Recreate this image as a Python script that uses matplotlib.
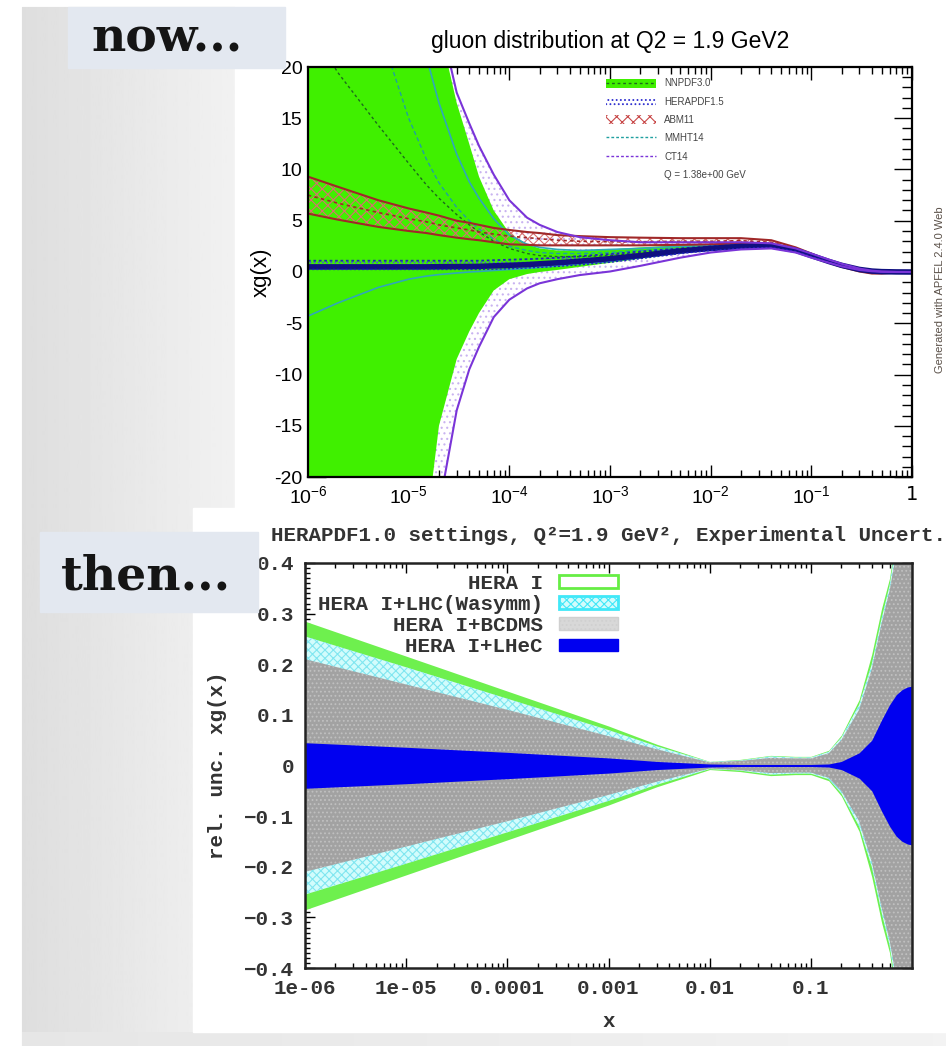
import numpy as np
import matplotlib
matplotlib.use('Agg')
import matplotlib.pyplot as plt
from matplotlib.patches import Patch, Rectangle
from matplotlib.lines import Line2D
from matplotlib.ticker import LogLocator, MultipleLocator, NullFormatter

plt.rcParams['mathtext.fontset'] = 'custom'
plt.rcParams['mathtext.rm'] = 'Liberation Sans'
plt.rcParams['mathtext.it'] = 'Liberation Sans:italic'
plt.rcParams['hatch.linewidth'] = 0.8

W, H = 946, 1046        # output size in pixels
SANS = ['Liberation Sans', 'DejaVu Sans']
MONO = ['Liberation Mono', 'DejaVu Sans Mono']

# ---- top panel: xg(x) at Q2 = 1.9 GeV2, several PDF sets ----
x_top = [1e-6, 2e-6, 5e-6, 1e-5, 1.5e-5, 2e-5, 3e-5, 4e-5, 5e-5, 7e-5,
         1e-4, 1.5e-4, 2e-4, 3e-4, 5e-4, 1e-3, 2e-3, 5e-3, 1e-2, 2e-2,
         4e-2, 7e-2, 0.1, 0.15, 0.2, 0.3, 0.4, 0.5, 0.7, 1.0]

nnpdf_hi = [200, 150, 90, 55, 35, 24, 16.5, 12.5, 9.3, 6.0,
            3.8, 2.7, 2.3, 2.1, 2.1, 2.2, 2.4, 2.6, 2.7, 2.8,
            2.8, 2.3, 1.8, 1.2, 0.8, 0.35, 0.15, 0.07, 0.02, 0.0]
nnpdf_c = [24, 19.4, 14.3, 10.6, 8.5, 7.2, 5.6, 4.6, 3.9, 3.0,
           2.3, 1.8, 1.6, 1.5, 1.5, 1.6, 1.9, 2.2, 2.4, 2.55,
           2.6, 2.15, 1.65, 1.1, 0.7, 0.3, 0.12, 0.05, 0.015, 0.0]
nnpdf_lo = [-200, -150, -90, -45, -25, -15, -8.5, -5.8, -4.0, -1.8,
            -0.7, -0.2, 0.0, 0.2, 0.5, 0.9, 1.3, 1.8, 2.1, 2.3,
            2.4, 2.0, 1.5, 1.0, 0.6, 0.25, 0.1, 0.04, 0.01, 0.0]

hera_hi = [1.1, 1.1, 1.1, 1.1, 1.1, 1.1, 1.1, 1.1, 1.1, 1.15,
           1.2, 1.25, 1.3, 1.4, 1.55, 1.75, 2.0, 2.3, 2.5, 2.65,
           2.7, 2.25, 1.7, 1.1, 0.7, 0.27, 0.1, 0.04, 0.01, 0.0]
hera_c = [0.5, 0.5, 0.5, 0.5, 0.5, 0.52, 0.53, 0.54, 0.55, 0.6,
          0.65, 0.72, 0.8, 0.9, 1.05, 1.3, 1.6, 2.05, 2.3, 2.5,
          2.55, 2.12, 1.6, 1.02, 0.65, 0.25, 0.09, 0.035, 0.008, 0.0]
hera_lo = [0.25, 0.25, 0.25, 0.25, 0.25, 0.25, 0.25, 0.25, 0.25, 0.28,
           0.32, 0.4, 0.45, 0.55, 0.7, 0.95, 1.3, 1.8, 2.1, 2.3,
           2.4, 2.0, 1.5, 0.95, 0.6, 0.22, 0.08, 0.03, 0.007, 0.0]

abm_hi = [9.3, 8.3, 7.0, 6.2, 5.8, 5.5, 5.0, 4.8, 4.6, 4.3,
          4.1, 3.9, 3.8, 3.6, 3.5, 3.4, 3.35, 3.3, 3.3, 3.3,
          3.1, 2.4, 1.8, 1.1, 0.7, 0.25, 0.05, 0.0, 0.0, 0.0]
abm_c = [7.5, 6.7, 5.8, 5.2, 4.9, 4.6, 4.3, 4.1, 3.9, 3.7,
         3.5, 3.35, 3.25, 3.1, 3.0, 2.95, 2.95, 3.0, 3.0, 3.05,
         2.9, 2.25, 1.65, 1.0, 0.6, 0.15, -0.05, -0.08, -0.03, 0.0]
abm_lo = [5.7, 5.1, 4.4, 4.0, 3.8, 3.6, 3.35, 3.2, 3.1, 2.9,
          2.7, 2.65, 2.6, 2.6, 2.6, 2.6, 2.6, 2.65, 2.7, 2.8,
          2.7, 2.1, 1.5, 0.9, 0.5, 0.05, -0.15, -0.15, -0.06, 0.0]

mmht_hi = [150, 100, 55, 32, 21, 16.5, 11.5, 8.8, 7.2, 5.2,
           3.6, 2.7, 2.4, 2.2, 2.1, 2.2, 2.3, 2.5, 2.6, 2.7,
           2.7, 2.2, 1.7, 1.1, 0.7, 0.28, 0.11, 0.045, 0.012, 0.0]
mmht_c = [60, 40, 24, 15, 11, 8.7, 6.3, 5.0, 4.2, 3.2,
          2.5, 2.1, 1.9, 1.8, 1.8, 1.9, 2.1, 2.3, 2.4, 2.5,
          2.5, 2.1, 1.6, 1.05, 0.65, 0.25, 0.1, 0.04, 0.01, 0.0]
mmht_lo = [-4.3, -3.0, -1.5, -0.7, -0.4, -0.25, -0.1, 0.0, 0.05, 0.15,
           0.25, 0.35, 0.45, 0.6, 0.8, 1.05, 1.4, 1.9, 2.2, 2.35,
           2.35, 2.0, 1.5, 1.0, 0.6, 0.22, 0.09, 0.035, 0.008, 0.0]

ct14_hi = [200, 150, 90, 55, 36, 25, 17.5, 14.5, 12.3, 9.5,
           7.0, 5.3, 4.6, 3.9, 3.4, 3.1, 2.9, 2.9, 2.9, 2.9,
           2.8, 2.3, 1.8, 1.2, 0.8, 0.33, 0.13, 0.05, 0.01, 0.0]
ct14_lo = [-200, -150, -100, -60, -35, -23, -13.5, -9.5, -7.3, -4.4,
           -2.7, -1.6, -1.1, -0.7, -0.3, 0.05, 0.6, 1.4, 1.9, 2.2,
           2.3, 1.9, 1.4, 0.9, 0.55, 0.2, 0.07, 0.02, 0.0, 0.0]

top_xticks = [1e-6, 1e-5, 1e-4, 1e-3, 1e-2, 1e-1, 1.0]
top_xticklabels = [r'$10^{-6}$', r'$10^{-5}$', r'$10^{-4}$', r'$10^{-3}$',
                   r'$10^{-2}$', r'$10^{-1}$', '1']
top_yticks = [-20, -15, -10, -5, 0, 5, 10, 15, 20]
top_yticklabels = ['-20', '-15', '-10', '-5', '0', '5', '10', '15', '20']

# ---- bottom panel: relative experimental uncertainty of xg(x) ----
x_bot = [1e-6, 1e-5, 1e-4, 1e-3, 3e-3, 0.01, 0.02, 0.04, 0.07, 0.1,
         0.15, 0.2, 0.3, 0.4, 0.5, 0.6, 0.7, 0.8, 0.9, 1.0]
unc_hera1 = [0.285, 0.216, 0.147, 0.078, 0.042, 0.008, 0.012, 0.02, 0.018, 0.018,
             0.03, 0.06, 0.13, 0.22, 0.31, 0.37, 0.46, 0.6, 0.75, 0.9]
unc_lhc = [0.255, 0.194, 0.132, 0.07, 0.038, 0.007, 0.01, 0.018, 0.016, 0.016,
           0.027, 0.055, 0.12, 0.2, 0.29, 0.355, 0.44, 0.57, 0.72, 0.87]
unc_bcdms = [0.21, 0.16, 0.11, 0.058, 0.032, 0.006, 0.009, 0.015, 0.014, 0.014,
             0.024, 0.05, 0.11, 0.19, 0.28, 0.345, 0.42, 0.55, 0.7, 0.85]
unc_lhec = [0.045, 0.036, 0.026, 0.015, 0.008, 0.003, 0.002, 0.002, 0.002, 0.002,
            0.003, 0.008, 0.025, 0.05, 0.09, 0.12, 0.14, 0.15, 0.155, 0.157]

bot_xticks = [1e-6, 1e-5, 1e-4, 1e-3, 1e-2, 1e-1]
bot_xticklabels = ['1e-06', '1e-05', '0.0001', '0.001', '0.01', '0.1']
bot_yticks = [-0.4, -0.3, -0.2, -0.1, 0.0, 0.1, 0.2, 0.3, 0.4]
bot_yticklabels = ['\u22120.4', '\u22120.3', '\u22120.2', '\u22120.1', '0',
                   '0.1', '0.2', '0.3', '0.4']


def px_axes(left, top, right, bottom):
    return [left / W, 1 - bottom / H, (right - left) / W, (bottom - top) / H]


fig = plt.figure(figsize=(W / 100, H / 100), dpi=100)

# slide background and the white picture areas
bg = fig.add_axes([0, 0, 1, 1], zorder=-10)
bg.add_patch(Rectangle((22, 7), W - 22, H - 7, color='#f2f2f2', zorder=-1))
shade = np.linspace(0.87, 0.97, 256)[None, :]
bg.imshow(shade, cmap='gray', vmin=0, vmax=1, extent=(22, 300, H, 7),
          aspect='auto', zorder=0)
strip = np.linspace(0.9, 0.95, 256)[None, :]
bg.imshow(strip, cmap='gray', vmin=0, vmax=1, extent=(22, W, H, 1032),
          aspect='auto', zorder=0)
bg.add_patch(Rectangle((235, 0), W - 235, 508, color='white', zorder=1))
bg.add_patch(Rectangle((193, 508), W - 193, 524, color='white', zorder=1))
bg.set_xlim(0, W)
bg.set_ylim(H, 0)
bg.axis('off')

# ---------------- top chart ----------------
ax = fig.add_axes(px_axes(308, 67, 912, 477))
ax.set_axisbelow(True)
ax.fill_between(x_top, ct14_lo, ct14_hi, facecolor='none', edgecolor='#c9b3f0',
                hatch='...', lw=0, zorder=1)
ax.fill_between(x_top, nnpdf_lo, nnpdf_hi, color='#40f000', lw=0, zorder=1.2)
ax.fill_between(x_top, abm_lo, abm_hi, facecolor='none', edgecolor='#d87070',
                hatch='xxx', lw=0, zorder=1.5)
ax.fill_between(x_top, hera_lo, hera_hi, facecolor='none', edgecolor='#5050e0',
                hatch='....', lw=0, zorder=1.5)
ax.plot(x_top, nnpdf_c, color='#1d6b1d', lw=1.0, ls=(0, (2, 2)), zorder=2)
ax.plot(x_top, mmht_c, color='#20a0a0', lw=1.0, ls=(0, (3, 2)), zorder=2)
ax.plot(x_top, mmht_hi, color='#30a8b8', lw=1.2, zorder=2)
ax.plot(x_top, mmht_lo, color='#30a8b8', lw=1.2, zorder=2)
ax.plot(x_top, abm_hi, color='#a02828', lw=1.5, zorder=2.2)
ax.plot(x_top, abm_lo, color='#a02828', lw=1.5, zorder=2.2)
ax.plot(x_top, abm_c, color='#a02828', lw=1.2, ls=(0, (2, 2)), zorder=2.2)
ax.plot(x_top, hera_hi, color='#2020c0', lw=1.3, ls=(0, (1.5, 1.5)), zorder=2.3)
ax.plot(x_top, hera_c, color='#101080', lw=4, zorder=2.3)
ax.plot(x_top, hera_lo, color='#2020c0', lw=1.0, ls=(0, (1.5, 1.5)), zorder=2.3)
ax.plot(x_top, ct14_hi, color='#7a34d8', lw=1.5, zorder=2.4)
ax.plot(x_top, ct14_lo, color='#7a34d8', lw=1.5, zorder=2.4)

ax.set_xscale('log')
ax.set_xlim(1e-6, 1)
ax.set_ylim(-20, 20)
ax.set_xticks(top_xticks, labels=top_xticklabels, fontsize=14)
ax.set_yticks(top_yticks, labels=top_yticklabels, fontsize=14, fontfamily=SANS)
ax.xaxis.set_minor_locator(LogLocator(base=10, subs=np.arange(2, 10)))
ax.xaxis.set_minor_formatter(NullFormatter())
ax.yaxis.set_minor_locator(MultipleLocator(1))
ax.tick_params(which='both', direction='in', top=True, right=True)
ax.tick_params(axis='y', which='major', length=13, width=1, pad=4)
ax.tick_params(axis='y', which='minor', length=7, width=1)
ax.tick_params(axis='x', which='major', length=9, width=1, pad=6)
ax.tick_params(axis='x', which='minor', length=5, width=1)
for sp in ax.spines.values():
    sp.set_linewidth(1.6)
ax.set_ylabel('xg(x)', fontsize=16, fontfamily=SANS, labelpad=2)
ax.set_title('gluon distribution at Q2 = 1.9 GeV2', fontsize=16.5, fontfamily=SANS, pad=14)

top_handles = [
    (Patch(facecolor='#40f000', edgecolor='none'),
     Line2D([], [], color='#1d6b1d', lw=1, ls=(0, (2, 2)))),
    Patch(facecolor='none', edgecolor='#3030d0', hatch='....', lw=0),
    Patch(facecolor='none', edgecolor='#c84848', hatch='xxx', lw=0),
    Line2D([], [], color='#20a0a0', lw=1, ls=(0, (2, 1.5))),
    Line2D([], [], color='#7a34d8', lw=1, ls=(0, (2, 1.5))),
    Line2D([], [], color='none'),
]
top_labels = ['NNPDF3.0', 'HERAPDF1.5', 'ABM11', 'MMHT14', 'CT14', 'Q = 1.38e+00 GeV']
leg = ax.legend(top_handles, top_labels, loc='upper left', bbox_to_anchor=(0.493, 0.972),
                frameon=False, borderpad=0, borderaxespad=0, handlelength=5.2,
                handleheight=1.0, handletextpad=0.8, labelspacing=0.85,
                prop={'family': SANS, 'size': 7})
for t in leg.get_texts():
    t.set_color('#444444')

fig.text(940 / W, 1 - 290 / H, 'Generated with APFEL 2.4.0 Web', rotation=90,
         ha='center', va='center', fontsize=8, color='#5a5048', fontfamily=SANS)

# ---------------- bottom chart ----------------
axb = fig.add_axes(px_axes(305, 563, 912, 968))
axb.set_axisbelow(True)
axb.fill_between(x_bot, -np.array(unc_hera1), unc_hera1, color='#6ef04e', lw=0)
axb.fill_between(x_bot, -np.array(unc_lhc), unc_lhc, facecolor='#d2fcfc',
                 edgecolor='#80e6f0', hatch='xxxx', lw=0)
axb.fill_between(x_bot, -np.array(unc_bcdms), unc_bcdms, facecolor='#a2a2a2',
                 edgecolor='#c0c0c0', hatch='....', lw=0)
axb.fill_between(x_bot, -np.array(unc_lhec), unc_lhec, color='#0000f0', lw=0)

mono_font = dict(fontfamily=MONO, fontweight='bold', fontsize=15, color='#333333')
axb.set_xscale('log')
axb.set_xlim(1e-6, 1)
axb.set_ylim(-0.4, 0.4)
axb.set_xticks(bot_xticks, labels=bot_xticklabels, **mono_font)
axb.set_yticks(bot_yticks, labels=bot_yticklabels, **mono_font)
axb.xaxis.set_minor_locator(LogLocator(base=10, subs=np.arange(2, 10)))
axb.xaxis.set_minor_formatter(NullFormatter())
axb.yaxis.set_minor_locator(MultipleLocator(0.01))
axb.tick_params(which='both', direction='in', top=True, right=True, width=1)
axb.tick_params(which='major', length=7, pad=8)
axb.tick_params(which='minor', length=3.5)
for sp in axb.spines.values():
    sp.set_linewidth(1.8)
    sp.set_color('#222222')
axb.set_xlabel('x', labelpad=10, **mono_font)
axb.set_ylabel('rel. unc. xg(x)', labelpad=12, **mono_font)
axb.set_title('HERAPDF1.0 settings, Q\u00b2=1.9 GeV\u00b2, Experimental Uncert.',
              pad=16, **mono_font)

bot_handles = [
    Patch(facecolor='white', edgecolor='#66ee44', lw=2),
    Patch(facecolor='#d2fcfc', edgecolor='#40e8f8', hatch='xxxx', lw=2),
    Patch(facecolor='#d8d8d8', edgecolor='#d0d0d0', hatch='....', lw=1),
    Patch(facecolor='#0000f0', edgecolor='#0000f0', lw=1),
]
bot_labels = ['HERA I', 'HERA I+LHC(Wasymm)', 'HERA I+BCDMS', 'HERA I+LHeC']
axb.legend(bot_handles, bot_labels, loc='upper right', bbox_to_anchor=(0.515, 0.973),
           markerfirst=False, frameon=False, borderpad=0, borderaxespad=0,
           handlelength=2.8, handleheight=0.55, handletextpad=0.8, labelspacing=0.1,
           prop={'family': MONO, 'weight': 'bold', 'size': 15})
for t in axb.get_legend().get_texts():
    t.set_color('#333333')

# "now..." / "then..." captions sit on top of everything
ov = fig.add_axes([0, 0, 1, 1], zorder=10)
ov.set_xlim(0, W)
ov.set_ylim(H, 0)
ov.axis('off')
ov.add_patch(Rectangle((68, 7), 217, 61, color='#e3e8f0'))
ov.add_patch(Rectangle((40, 532), 218, 80, color='#e3e8f0'))
ov.text(167, 38, 'now...', ha='center', va='center', fontsize=34,
        fontfamily='DejaVu Serif', fontweight='bold', color='#151515')
ov.text(146, 576, 'then...', ha='center', va='center', fontsize=34,
        fontfamily='DejaVu Serif', fontweight='bold', color='#151515')

fig.savefig('out.png', dpi=100)
